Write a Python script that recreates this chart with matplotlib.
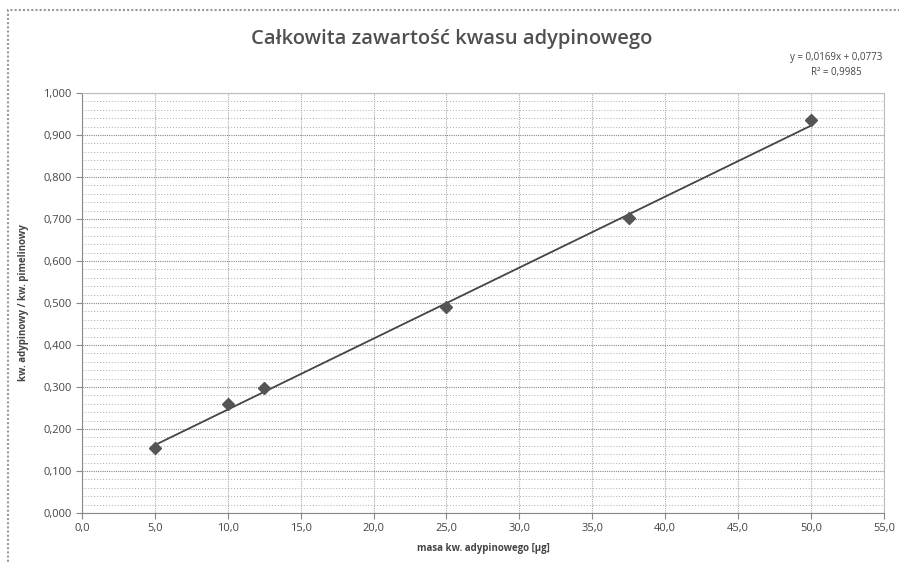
import matplotlib.pyplot as plt
import numpy as np
from matplotlib.ticker import MultipleLocator, FuncFormatter
from matplotlib.patches import Rectangle

# dane
masa = [5.0, 10.0, 12.5, 25.0, 37.5, 50.0]
stosunek = [0.155, 0.260, 0.297, 0.490, 0.703, 0.935]
slope, intercept = 0.0169, 0.0773

plt.rcParams['font.family'] = ['Open Sans', 'DejaVu Sans']

fig = plt.figure(figsize=(8.99, 5.63), dpi=100)
ax = fig.add_axes([0.0912, 0.0888, 0.892, 0.746])

# obramowanie wykresu
fig.patches.append(Rectangle((8/899, -0.01), 1.0, 1 - 10/563 + 0.01, transform=fig.transFigure,
                             fill=False, edgecolor='#999999', lw=1.5, linestyle=(0, (1, 1))))

ax.set_xlim(0, 55)
ax.set_ylim(0, 1.0)
ax.xaxis.set_major_locator(MultipleLocator(5))
ax.yaxis.set_major_locator(MultipleLocator(0.1))
ax.yaxis.set_minor_locator(MultipleLocator(0.02))
ax.xaxis.set_major_formatter(FuncFormatter(lambda v, p: f"{v:.1f}".replace('.', ',')))
ax.yaxis.set_major_formatter(FuncFormatter(lambda v, p: f"{v:.3f}".replace('.', ',')))

ax.grid(which='major', axis='x', color='#aaaaaa', lw=0.8, linestyle=(0, (1, 1)))
ax.grid(which='major', axis='y', color='#888888', lw=0.8, linestyle=(0, (1, 1)))
ax.grid(which='minor', axis='y', color='#aaaaaa', lw=0.7, linestyle=(0, (1, 2)))
ax.set_axisbelow(True)

for s in ['top', 'right']:
    ax.spines[s].set_color('#bbbbbb')
    ax.spines[s].set_linestyle((0, (1, 1)))
for s in ['left', 'bottom']:
    ax.spines[s].set_color('#888888')

ax.tick_params(which='major', length=4, color='#888888', labelsize=8, labelcolor='#444444', direction='out')
ax.tick_params(which='minor', length=0)

xs = np.array([min(masa), max(masa)])
ax.plot(xs, slope * xs + intercept, color='#444444', lw=1.3)
ax.plot(masa, stosunek, linestyle='none', marker='D', markersize=6.5, color='#555555')

ax.set_xlabel('masa kw. adypinowego [µg]', fontsize=7, fontweight='bold', color='#444444', labelpad=6)
ax.set_ylabel('kw. adypinowy / kw. pimelinowy', fontsize=7, fontweight='bold', color='#444444', labelpad=10)

fig.text(0.502, 1 - 39/563, 'Całkowita zawartość kwasu adypinowego', ha='center', va='center',
         fontsize=14.5, fontweight='semibold', color='#505050')
fig.text(0.93, 1 - 58/563, 'y = 0,0169x + 0,0773', ha='center', va='center', fontsize=7, color='#444444')
fig.text(0.93, 1 - 72/563, 'R² = 0,9985', ha='center', va='center', fontsize=7, color='#444444')

fig.savefig('out.png', dpi=100)
